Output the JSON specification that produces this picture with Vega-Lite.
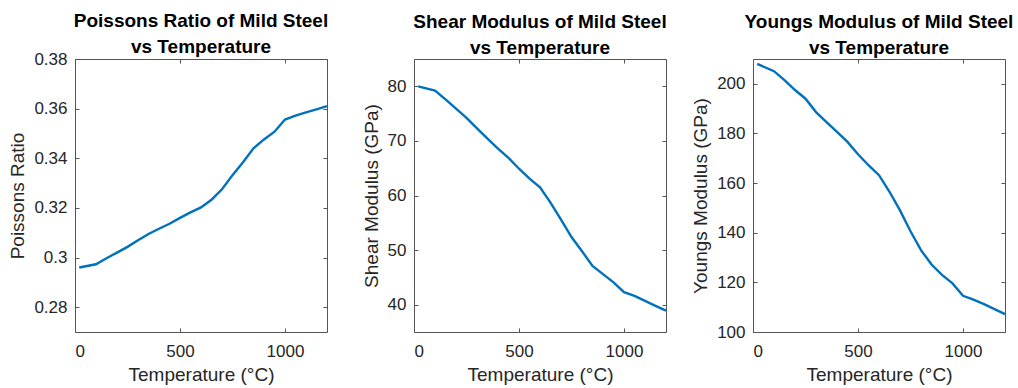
{
  "$schema": "https://vega.github.io/schema/vega-lite/v6.json",
  "background": "white",
  "padding": {"left": 8, "top": 11, "right": 5, "bottom": 5},
  "spacing": 87,
  "bounds": "flush",
  "config": {
    "font": "Liberation Sans",
    "view": {"stroke": "#555555", "strokeWidth": 1},
    "axis": {
      "labelFont": "Liberation Sans",
      "titleFont": "Liberation Sans",
      "labelFontSize": 17,
      "titleFontSize": 19,
      "titleFontWeight": "normal",
      "labelColor": "#262626",
      "titleColor": "#262626",
      "grid": false,
      "domain": false,
      "tickColor": "#555555",
      "tickSize": -4,
      "labelPadding": 12,
      "titlePadding": 6
    },
    "axisBottom": {"labelPadding": 15},
    "title": {
      "font": "Liberation Sans",
      "fontSize": 19,
      "fontWeight": "bold",
      "color": "#000000",
      "anchor": "middle",
      "lineHeight": 26,
      "offset": 1
    },
    "line": {"color": "#0072BD", "strokeWidth": 2.4}
  },
  "datasets": {
    "poisson": [
      {"T": 20, "v": 0.2960}, {"T": 100, "v": 0.2973}, {"T": 150, "v": 0.2997}, {"T": 200, "v": 0.3020},
      {"T": 250, "v": 0.3043}, {"T": 300, "v": 0.3070}, {"T": 350, "v": 0.3095}, {"T": 400, "v": 0.3116},
      {"T": 450, "v": 0.3136}, {"T": 500, "v": 0.3160}, {"T": 550, "v": 0.3182}, {"T": 600, "v": 0.3202},
      {"T": 650, "v": 0.3233}, {"T": 700, "v": 0.3275}, {"T": 750, "v": 0.3332}, {"T": 800, "v": 0.3384},
      {"T": 850, "v": 0.3440}, {"T": 900, "v": 0.3476}, {"T": 950, "v": 0.3507}, {"T": 1000, "v": 0.3556},
      {"T": 1050, "v": 0.3572}, {"T": 1100, "v": 0.3585}, {"T": 1150, "v": 0.3597}, {"T": 1200, "v": 0.3610}
    ],
    "shear": [
      {"T": 20, "G": 80.0}, {"T": 100, "G": 79.2}, {"T": 150, "G": 77.6}, {"T": 200, "G": 75.9},
      {"T": 250, "G": 74.2}, {"T": 300, "G": 72.3}, {"T": 350, "G": 70.4}, {"T": 400, "G": 68.6},
      {"T": 450, "G": 66.9}, {"T": 500, "G": 64.9}, {"T": 550, "G": 63.1}, {"T": 600, "G": 61.5},
      {"T": 650, "G": 58.7}, {"T": 700, "G": 55.6}, {"T": 750, "G": 52.4}, {"T": 800, "G": 49.8},
      {"T": 850, "G": 47.1}, {"T": 900, "G": 45.6}, {"T": 950, "G": 44.1}, {"T": 1000, "G": 42.3},
      {"T": 1050, "G": 41.6}, {"T": 1100, "G": 40.7}, {"T": 1150, "G": 39.8}, {"T": 1200, "G": 38.9}
    ],
    "youngs": [
      {"T": 20, "E": 208.0}, {"T": 100, "E": 205.1}, {"T": 150, "E": 201.5}, {"T": 200, "E": 197.5},
      {"T": 250, "E": 194.0}, {"T": 300, "E": 188.6}, {"T": 350, "E": 184.6}, {"T": 400, "E": 180.6},
      {"T": 450, "E": 176.6}, {"T": 500, "E": 171.6}, {"T": 550, "E": 167.2}, {"T": 600, "E": 163.2},
      {"T": 650, "E": 156.5}, {"T": 700, "E": 149.0}, {"T": 750, "E": 140.6}, {"T": 800, "E": 133.0},
      {"T": 850, "E": 127.2}, {"T": 900, "E": 123.0}, {"T": 950, "E": 119.6}, {"T": 1000, "E": 114.6},
      {"T": 1050, "E": 113.0}, {"T": 1100, "E": 111.2}, {"T": 1150, "E": 109.2}, {"T": 1200, "E": 107.2}
    ]
  },
  "hconcat": [
    {
      "title": {"text": ["Poissons Ratio of Mild Steel", "vs Temperature"], "offset": -7},
      "width": 252,
      "height": 273,
      "data": {"name": "poisson"},
      "layer": [
        {
          "mark": {"type": "line"},
          "encoding": {
            "x": {"field": "T", "type": "quantitative", "scale": {"domain": [0, 1200], "nice": false},
                  "axis": {"title": "Temperature (°C)", "values": [0, 500, 1000], "format": "d"}},
            "y": {"field": "v", "type": "quantitative", "scale": {"domain": [0.27, 0.38], "nice": false, "zero": false},
                  "axis": {"title": "Poissons Ratio", "values": [0.28, 0.3, 0.32, 0.34, 0.36, 0.38], "format": "~g"}}
          }
        },
        {
          "mark": {"type": "line", "opacity": 0},
          "encoding": {
            "x": {"field": "T", "type": "quantitative", "axis": {"orient": "top", "labels": false, "title": null, "values": [0, 500, 1000]}},
            "y": {"field": "v", "type": "quantitative", "axis": {"orient": "right", "labels": false, "title": null, "values": [0.28, 0.3, 0.32, 0.34, 0.36, 0.38]}}
          }
        }
      ],
      "resolve": {"axis": {"x": "independent", "y": "independent"}}
    },
    {
      "title": {"text": ["Shear Modulus of Mild Steel", "vs Temperature"]},
      "width": 252,
      "height": 273,
      "data": {"name": "shear"},
      "layer": [
        {
          "mark": {"type": "line"},
          "encoding": {
            "x": {"field": "T", "type": "quantitative", "scale": {"domain": [0, 1200], "nice": false},
                  "axis": {"title": "Temperature (°C)", "values": [0, 500, 1000], "format": "d"}},
            "y": {"field": "G", "type": "quantitative", "scale": {"domain": [35, 85], "nice": false, "zero": false},
                  "axis": {"title": "Shear Modulus (GPa)", "values": [40, 50, 60, 70, 80], "format": "d"}}
          }
        },
        {
          "mark": {"type": "line", "opacity": 0},
          "encoding": {
            "x": {"field": "T", "type": "quantitative", "axis": {"orient": "top", "labels": false, "title": null, "values": [0, 500, 1000]}},
            "y": {"field": "G", "type": "quantitative", "axis": {"orient": "right", "labels": false, "title": null, "values": [40, 50, 60, 70, 80]}}
          }
        }
      ],
      "resolve": {"axis": {"x": "independent", "y": "independent"}}
    },
    {
      "title": {"text": ["Youngs Modulus of Mild Steel", "vs Temperature"]},
      "width": 252,
      "height": 273,
      "data": {"name": "youngs"},
      "layer": [
        {
          "mark": {"type": "line"},
          "encoding": {
            "x": {"field": "T", "type": "quantitative", "scale": {"domain": [0, 1200], "nice": false},
                  "axis": {"title": "Temperature (°C)", "values": [0, 500, 1000], "format": "d"}},
            "y": {"field": "E", "type": "quantitative", "scale": {"domain": [100, 210], "nice": false, "zero": false},
                  "axis": {"title": "Youngs Modulus (GPa)", "values": [100, 120, 140, 160, 180, 200], "format": "d"}}
          }
        },
        {
          "mark": {"type": "line", "opacity": 0},
          "encoding": {
            "x": {"field": "T", "type": "quantitative", "axis": {"orient": "top", "labels": false, "title": null, "values": [0, 500, 1000]}},
            "y": {"field": "E", "type": "quantitative", "axis": {"orient": "right", "labels": false, "title": null, "values": [100, 120, 140, 160, 180, 200]}}
          }
        }
      ],
      "resolve": {"axis": {"x": "independent", "y": "independent"}}
    }
  ]
}
